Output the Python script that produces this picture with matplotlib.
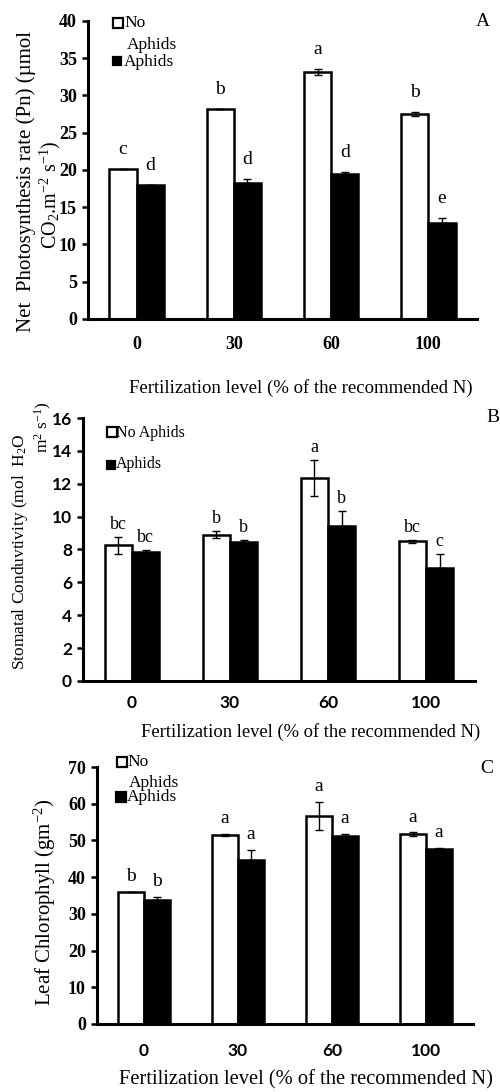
import matplotlib.pyplot as plt
import numpy as np
from matplotlib.lines import Line2D

levels = ["0", "30", "60", "100"]

# Panel A - net photosynthesis
pn_no = [20.1, 28.2, 33.1, 27.5]
pn_no_err = [0.0, 0.0, 0.4, 0.3]
pn_aph = [17.9, 18.2, 19.4, 12.9]
pn_aph_err = [0.1, 0.6, 0.3, 0.6]
pn_no_let = ["c", "b", "a", "b"]
pn_aph_let = ["d", "d", "d", "e"]

# Panel B - stomatal conductivity
gs_no = [8.25, 8.9, 12.35, 8.5]
gs_no_err = [0.5, 0.2, 1.1, 0.08]
gs_aph = [7.85, 8.45, 9.4, 6.85]
gs_aph_err = [0.1, 0.15, 0.95, 0.9]
gs_no_let = ["bc", "b", "a", "bc"]
gs_aph_let = ["bc", "b", "b", "c"]

# Panel C - leaf chlorophyll
ch_no = [36.0, 51.5, 56.7, 51.7]
ch_no_err = [0.0, 0.3, 3.8, 0.5]
ch_aph = [33.7, 44.8, 51.1, 47.8]
ch_aph_err = [1.0, 2.7, 0.6, 0.15]
ch_no_let = ["b", "a", "a", "a"]
ch_aph_let = ["b", "a", "a", "a"]

serif = "Liberation Serif"
sans = "Lato"
plt.rcParams["font.family"] = serif
plt.rcParams["mathtext.fontset"] = "custom"
plt.rcParams["mathtext.rm"] = serif
plt.rcParams["mathtext.it"] = serif + ":italic"

W, H = 500, 1092
fig = plt.figure(figsize=(W / 100, H / 100), dpi=100)

bw = 0.28
x = np.arange(len(levels))
XLAB = "Fertilization level (% of the recommended N)"


def px(xp, yp):
    # pixel position (from top-left) -> figure fraction
    return xp / W, 1 - yp / H


def key(xp, yp, face, size):
    fx, fy = px(xp, yp)
    fig.add_artist(Line2D([fx], [fy], marker="s", markersize=size,
                          markerfacecolor=face, markeredgecolor="black",
                          markeredgewidth=1.6, linestyle="none",
                          transform=fig.transFigure))


def label(xp, yp, s, size, **kw):
    fx, fy = px(xp, yp)
    fig.text(fx, fy, s, fontsize=size, va="center", **kw)


def panel(rect, no, no_err, aph, aph_err, no_let, aph_let, ymax, step,
          ytick_font, ytick_size, xtick_font, xtick_size, xpad,
          let_size, let_off):
    ax = fig.add_axes(rect)
    ax.bar(x - bw / 2, no, bw, color="white", edgecolor="black", linewidth=1.8)
    ax.bar(x + bw / 2, aph, bw, color="black", edgecolor="black", linewidth=1.8)
    ax.errorbar(x - bw / 2, no, yerr=no_err, fmt="none", ecolor="black",
                elinewidth=1, capsize=3, capthick=1)
    ax.errorbar(x + bw / 2, aph, yerr=[np.zeros(4), aph_err], fmt="none",
                ecolor="black", elinewidth=1, capsize=3, capthick=1)
    for i in range(4):
        ax.annotate(no_let[i], (x[i] - bw / 2, no[i] + no_err[i]),
                    xytext=(0, let_off), textcoords="offset points",
                    ha="center", va="center", fontsize=let_size)
        ax.annotate(aph_let[i], (x[i] + bw / 2, aph[i] + aph_err[i]),
                    xytext=(0, let_off), textcoords="offset points",
                    ha="center", va="center", fontsize=let_size)
    ax.set_xlim(-0.5, 3.5)
    ax.set_ylim(0, ymax)
    ax.set_yticks(np.arange(0, ymax + 0.1, step))
    ax.set_xticks(x)
    ax.set_xticklabels(levels, family=xtick_font, fontweight="bold",
                       fontsize=xtick_size)
    for lab in ax.get_yticklabels():
        lab.set_family(ytick_font)
        lab.set_fontweight("bold")
        lab.set_fontsize(ytick_size)
    ax.tick_params(axis="x", length=0, pad=xpad)
    ax.tick_params(axis="y", length=4, width=1.8, direction="out", pad=4)
    for s in ["top", "right"]:
        ax.spines[s].set_visible(False)
    ax.spines["left"].set_linewidth(2.2)
    ax.spines["bottom"].set_linewidth(2.2)
    return ax


# A
panel([0.176, 0.708, 0.778, 0.273], pn_no, pn_no_err, pn_aph, pn_aph_err,
      pn_no_let, pn_aph_let, 40, 5, serif, 13, serif, 13, 12, 14, 14)
fig.text(0.052, 0.834, "Net  Photosynthesis rate (Pn) (\u00b5mol",
         rotation=90, fontsize=15, ha="center", va="center")
fig.text(0.1, 0.8214, "CO$_2$.m$^{-2}$ s$^{-1}$)",
         rotation=90, fontsize=14.5, ha="center", va="center")
fig.text(0.966, 0.98, "A", fontsize=14, ha="center", va="center")
fig.text(0.602, 0.6447, XLAB, fontsize=13.5, ha="center", va="center")
key(118, 23, "white", 7)
label(124, 23, "No", 12.5)
label(127, 45, "Aphids", 12.5)
key(117, 61, "black", 6)
label(124, 62, "Aphids", 12.5)

# B
panel([0.166, 0.3764, 0.784, 0.2408], gs_no, gs_no_err, gs_aph, gs_aph_err,
      gs_no_let, gs_aph_let, 16, 2, sans, 12.5, sans, 12.5, 10, 13, 9)
fig.text(0.04, 0.4945, "Stomatal Conduvtivity (mol  H$_2$O",
         rotation=90, fontsize=12.5, ha="center", va="center")
fig.text(0.086, 0.609, "m$^2$ s$^{-1}$)",
         rotation=90, fontsize=12.5, ha="center", va="center")
fig.text(0.986, 0.618, "B", fontsize=14, ha="center", va="center")
fig.text(0.621, 0.3297, XLAB, fontsize=13.3, ha="center", va="center")
key(111.5, 432.5, "white", 6.5)
label(116, 433, "No Aphids", 11.5)
key(111, 465, "black", 6)
label(116, 464, "Aphids", 11.5)

# C
panel([0.194, 0.0623, 0.752, 0.2353], ch_no, ch_no_err, ch_aph, ch_aph_err,
      ch_no_let, ch_aph_let, 70, 10, serif, 13, sans, 12.5, 14, 14, 11)
fig.text(0.09, 0.174, "Leaf Chlorophyll (gm$^{-2}$)",
         rotation=90, fontsize=15, ha="center", va="center")
fig.text(0.974, 0.2967, "C", fontsize=14, ha="center", va="center")
fig.text(0.612, 0.011, XLAB, fontsize=14.8, ha="center", va="center")
key(122, 762, "white", 7)
label(127, 762, "No", 12.5)
label(129, 783, "Aphids", 12.5)
key(121, 797, "black", 6.5)
label(127, 797, "Aphids", 12.5)

fig.savefig("out.png", dpi=100)
